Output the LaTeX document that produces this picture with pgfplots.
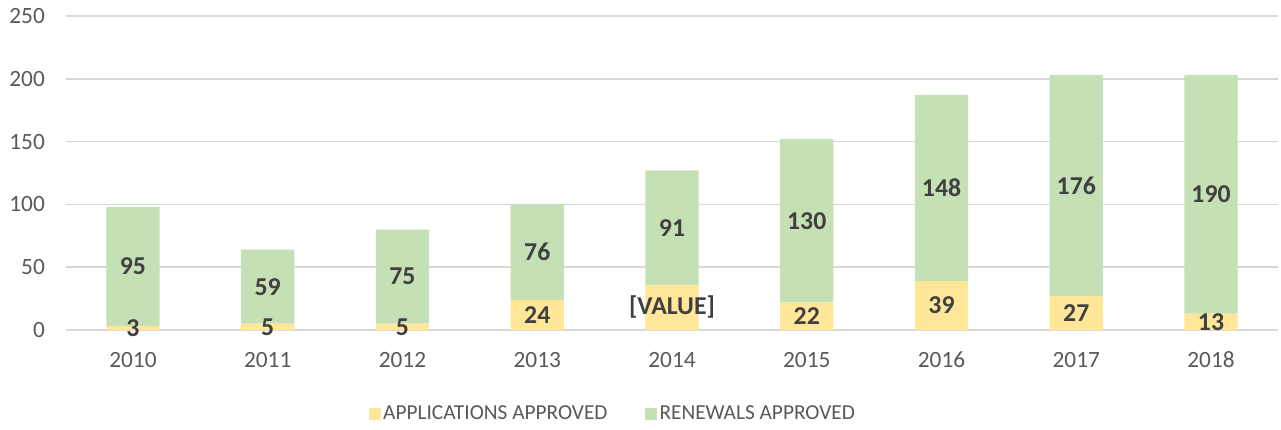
\documentclass[border=0pt]{standalone}
\usepackage{pgfplots}
\pgfplotsset{compat=1.18}
\usepackage{fontspec}
\setmainfont{Carlito}
\definecolor{appy}{HTML}{FFE699}
\definecolor{reng}{HTML}{C5E0B4}
\definecolor{tickc}{HTML}{595959}
\definecolor{labc}{HTML}{404040}
\definecolor{gridc}{HTML}{D9D9D9}
\pgfplotsset{geom/.style={at={(0,0)}, anchor=south west,
  scale only axis, width=909.6pt, height=235.5pt,
  xmin=-0.5, xmax=8.5, ymin=0, ymax=250}}
\begin{document}
\begin{tikzpicture}
\begin{axis}[
  geom,
  ybar stacked, bar width=40pt,
  xtick={0,...,8}, xticklabels={2010,2011,2012,2013,2014,2015,2016,2017,2018},
  ytick={0,50,...,250},
  ymajorgrids, grid style={gridc, line width=1.1pt},
  axis line style={draw=none}, major tick length=0pt,
  tick label style={font=\fontsize{17.5}{20}\selectfont, text=tickc},
  /pgf/number format/assume math mode=true,
  xticklabel style={yshift=-13pt},
  yticklabel style={xshift=-12pt},
  legend style={at={(0.4514,-63pt)}, anchor=center, draw=none, legend columns=2,
    font=\fontsize{16}{19}\selectfont, text=tickc,
    /tikz/every even column/.append style={column sep=26pt}},
  legend image code/.code={\fill[#1] (-3pt,-4.5pt) rectangle (6pt,4.5pt);},
]
\addplot[fill=appy, draw=none] coordinates {(0,3) (1,5) (2,5) (3,24) (4,36) (5,22) (6,39) (7,27) (8,13)};
\addlegendentry{APPLICATIONS APPROVED}
\addplot[fill=reng, draw=none] coordinates {(0,95) (1,59) (2,75) (3,76) (4,91) (5,130) (6,148) (7,176) (8,190)};
\addlegendentry{RENEWALS APPROVED}
\end{axis}
\begin{axis}[
  geom, hide axis,
  nodes near coords, point meta=explicit symbolic,
  every node near coord/.append style={anchor=center, font=\fontsize{19.3}{22}\selectfont\bfseries, text=labc},
]
\addplot[draw=none, mark=none] table[meta=lab] {
x y lab
0 1.5 3
1 2.5 5
2 2.5 5
3 12 24
4 18 {[VALUE]}
5 11 22
6 19.5 39
7 13.5 27
8 6.5 13
};
\addplot[draw=none, mark=none] table[meta=lab] {
x y lab
0 50.5 95
1 34.5 59
2 42.5 75
3 62 76
4 81.5 91
5 87 130
6 113 148
7 115 176
8 108 190
};
\end{axis}
\pgfresetboundingbox
\path[use as bounding box] (-49.2pt,-74.25pt) rectangle (911.55pt,247.5pt);
\end{tikzpicture}
\end{document}
